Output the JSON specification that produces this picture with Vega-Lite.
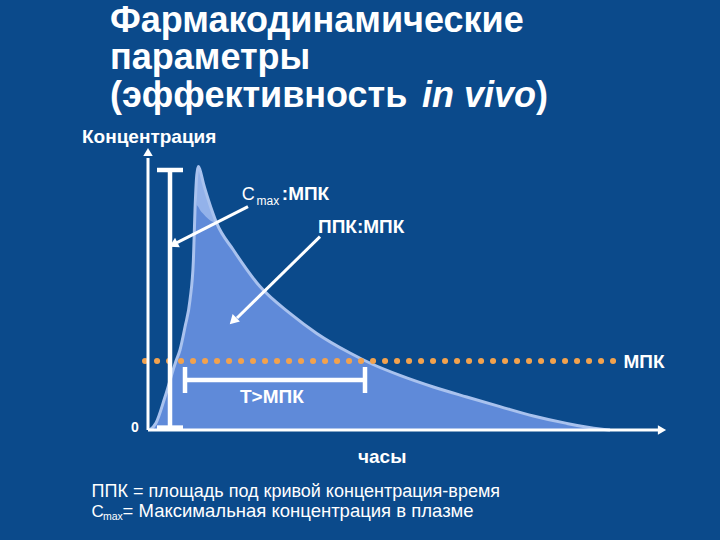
{
  "$schema": "https://vega.github.io/schema/vega-lite/v6.json",
  "width": 720,
  "height": 540,
  "autosize": {"type": "fit", "contains": "padding"},
  "padding": 0,
  "background": "#0b4a8b",
  "config": {"view": {"stroke": null}, "text": {"font": "Liberation Sans", "color": "#ffffff"}},
  "datasets": {
    "curve": [
      {"t": 0.1, "c": 0},
      {"t": 0.4, "c": 0.35},
      {"t": 0.85, "c": 1.65},
      {"t": 1.4, "c": 3.45},
      {"t": 1.6, "c": 4.0},
      {"t": 1.85, "c": 5.15},
      {"t": 2.1, "c": 6.5},
      {"t": 2.27, "c": 8.5},
      {"t": 2.35, "c": 11.0},
      {"t": 2.44, "c": 12.75},
      {"t": 2.52, "c": 13.17},
      {"t": 2.6, "c": 13.0},
      {"t": 2.77, "c": 12.33},
      {"t": 3.02, "c": 11.5},
      {"t": 3.44, "c": 10.33},
      {"t": 4.27, "c": 9.0},
      {"t": 5.6, "c": 7.17},
      {"t": 7.1, "c": 5.83},
      {"t": 8.44, "c": 4.83},
      {"t": 10.1, "c": 3.85},
      {"t": 11.2, "c": 3.3},
      {"t": 12.6, "c": 2.73},
      {"t": 14.27, "c": 2.15},
      {"t": 15.94, "c": 1.65},
      {"t": 17.6, "c": 1.17},
      {"t": 19.27, "c": 0.7},
      {"t": 20.94, "c": 0.33},
      {"t": 22.6, "c": 0.05},
      {"t": 23.1, "c": 0}
    ],
    "highlight": [
      {"t": 2.435, "c": 13.1, "c2": 11.25},
      {"t": 2.52, "c": 13.17, "c2": 11.15},
      {"t": 2.6, "c": 13.0, "c2": 11.0},
      {"t": 2.77, "c": 12.33, "c2": 10.8},
      {"t": 3.02, "c": 11.5, "c2": 10.55},
      {"t": 3.2, "c": 10.9, "c2": 10.42},
      {"t": 3.44, "c": 10.33, "c2": 10.33}
    ],
    "mic": [{"t": -0.15, "t2": 23.6, "c": 3.45}],
    "thin": [
      {"t": 0, "c": 0, "t2": 0, "c2": 13.6},
      {"t": 0, "c": 0, "t2": 25.5, "c2": 0},
      {"t": 5.0, "c": 11.17, "t2": 1.45, "c2": 9.37},
      {"t": 8.6, "c": 9.67, "t2": 4.45, "c2": 5.6}
    ],
    "thick": [
      {"t": 1.1, "c": 0.12, "t2": 1.1, "c2": 13.0},
      {"t": 0.45, "c": 13.0, "t2": 1.75, "c2": 13.0},
      {"t": 0.45, "c": 0.12, "t2": 1.75, "c2": 0.12},
      {"t": 1.85, "c": 2.5, "t2": 10.85, "c2": 2.5},
      {"t": 1.85, "c": 1.85, "t2": 1.85, "c2": 3.15},
      {"t": 10.85, "c": 1.85, "t2": 10.85, "c2": 3.15}
    ],
    "heads": [
      {"id": "y", "t": 0, "c": 13.9},
      {"id": "x", "t": 25.7, "c": 0},
      {"id": "cmax", "t": 1.27, "c": 9.27},
      {"id": "auc", "t": 4.25, "c": 5.45}
    ],
    "title": [
      {"text": "Фармакодинамические", "t": -1.9, "c": 19.9},
      {"text": "параметры", "t": -1.9, "c": 18.05},
      {"text": "(эффективность", "t": -1.9, "c": 16.15},
      {"text": ")", "t": 19.4, "c": 16.15}
    ],
    "titleItalic": [{"text": "in vivo", "t": 13.7, "c": 16.15}],
    "labels": [
      {"text": "Концентрация", "t": -3.3, "c": 14.35},
      {"text": ":МПК", "t": 6.69, "c": 11.5},
      {"text": "ППК:МПК", "t": 8.5, "c": 9.83},
      {"text": "МПК", "t": 23.77, "c": 3.1},
      {"text": "T>МПК", "t": 4.6, "c": 1.33},
      {"text": "часы", "t": 10.5, "c": -1.67}
    ],
    "zero": [{"text": "0", "t": -0.65, "c": 0.1}],
    "plain": [
      {"text": "C", "t": 4.69, "c": 11.5},
      {"text": "ППК = площадь под кривой концентрация-время", "t": -2.82, "c": -3.33}
    ],
    "plainSmall": [
      {"text": "C", "t": -2.82, "c": -4.33}
    ],
    "plainWide": [
      {"text": "= Максимальная концентрация в плазме", "t": -1.27, "c": -4.33}
    ],
    "sub": [
      {"text": "max", "t": 5.43, "c": 11.25}
    ],
    "subSmall": [
      {"text": "max", "t": -2.25, "c": -4.5}
    ]
  },
  "encoding": {
    "x": {"field": "t", "type": "quantitative", "scale": {"domain": [-7.4, 28.6], "nice": false, "zero": false}, "axis": null},
    "y": {"field": "c", "type": "quantitative", "scale": {"domain": [-5.5, 21.5], "nice": false, "zero": false}, "axis": null}
  },
  "layer": [
    {"data": {"name": "curve"}, "mark": {"type": "area", "color": "#5f8ad9", "interpolate": "monotone"}, "encoding": {"y2": {"datum": 0}}},
    {"data": {"name": "highlight"}, "mark": {"type": "area", "color": "#93b2ea", "interpolate": "monotone"}, "encoding": {"y2": {"field": "c2"}}},
    {"data": {"name": "curve"}, "mark": {"type": "line", "color": "#a9c2ee", "strokeWidth": 3, "interpolate": "monotone"}},
    {"data": {"name": "mic"}, "mark": {"type": "rule", "color": "#f2a24e", "strokeWidth": 6, "strokeDash": [0.1, 11.9], "strokeCap": "round"}, "encoding": {"x2": {"field": "t2"}}},
    {"data": {"name": "thin"}, "mark": {"type": "rule", "color": "#ffffff", "strokeWidth": 3}, "encoding": {"x2": {"field": "t2"}, "y2": {"field": "c2"}}},
    {"data": {"name": "thick"}, "mark": {"type": "rule", "color": "#ffffff", "strokeWidth": 4.5}, "encoding": {"x2": {"field": "t2"}, "y2": {"field": "c2"}}},
    {"data": {"name": "heads"}, "transform": [{"filter": "datum.id == 'y'"}], "mark": {"type": "point", "shape": "triangle-up", "filled": true, "color": "#ffffff", "opacity": 1, "size": 90, "angle": 0}},
    {"data": {"name": "heads"}, "transform": [{"filter": "datum.id == 'x'"}], "mark": {"type": "point", "shape": "triangle-up", "filled": true, "color": "#ffffff", "opacity": 1, "size": 90, "angle": 90}},
    {"data": {"name": "heads"}, "transform": [{"filter": "datum.id == 'cmax'"}], "mark": {"type": "point", "shape": "triangle-up", "filled": true, "color": "#ffffff", "opacity": 1, "size": 110, "angle": 243}},
    {"data": {"name": "heads"}, "transform": [{"filter": "datum.id == 'auc'"}], "mark": {"type": "point", "shape": "triangle-up", "filled": true, "color": "#ffffff", "opacity": 1, "size": 110, "angle": 226}},
    {"data": {"name": "title"}, "mark": {"type": "text", "align": "left", "baseline": "alphabetic", "fontSize": 36, "fontWeight": "bold"}, "encoding": {"text": {"field": "text"}}},
    {"data": {"name": "titleItalic"}, "mark": {"type": "text", "align": "left", "baseline": "alphabetic", "fontSize": 36, "fontWeight": "bold", "fontStyle": "italic"}, "encoding": {"text": {"field": "text"}}},
    {"data": {"name": "labels"}, "mark": {"type": "text", "align": "left", "baseline": "alphabetic", "fontSize": 19, "fontWeight": "bold"}, "encoding": {"text": {"field": "text"}}},
    {"data": {"name": "zero"}, "mark": {"type": "text", "align": "center", "baseline": "middle", "fontSize": 14, "fontWeight": "bold"}, "encoding": {"text": {"field": "text"}}},
    {"data": {"name": "plain"}, "mark": {"type": "text", "align": "left", "baseline": "alphabetic", "fontSize": 18}, "encoding": {"text": {"field": "text"}}},
    {"data": {"name": "plainSmall"}, "mark": {"type": "text", "align": "left", "baseline": "alphabetic", "fontSize": 17}, "encoding": {"text": {"field": "text"}}},
    {"data": {"name": "plainWide"}, "mark": {"type": "text", "align": "left", "baseline": "alphabetic", "fontSize": 18.5}, "encoding": {"text": {"field": "text"}}},
    {"data": {"name": "sub"}, "mark": {"type": "text", "align": "left", "baseline": "alphabetic", "fontSize": 12}, "encoding": {"text": {"field": "text"}}},
    {"data": {"name": "subSmall"}, "mark": {"type": "text", "align": "left", "baseline": "alphabetic", "fontSize": 10.5}, "encoding": {"text": {"field": "text"}}}
  ]
}
